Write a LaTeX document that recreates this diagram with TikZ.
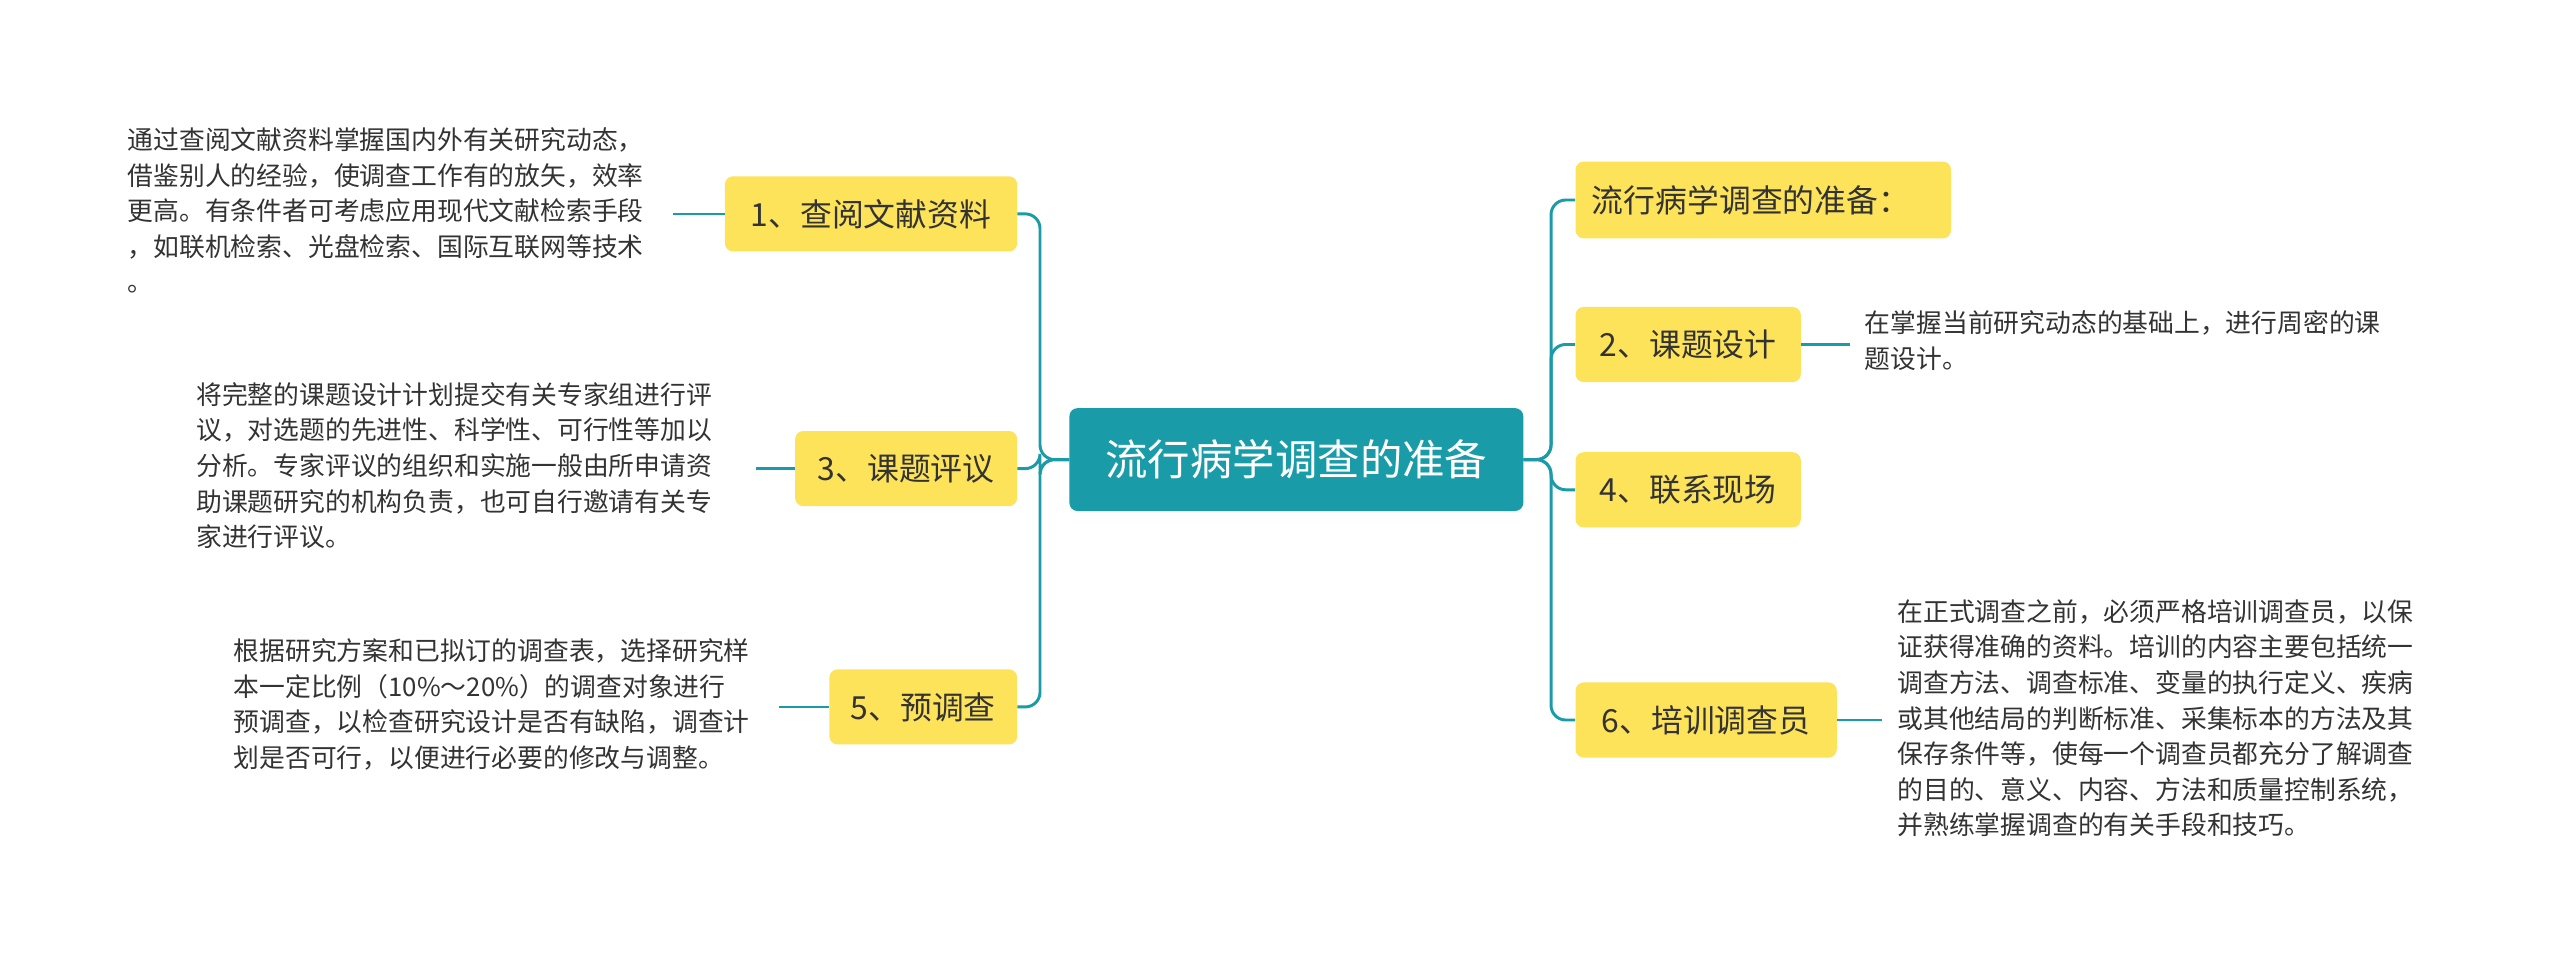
\documentclass[tikz,border=0pt]{standalone}
\usepackage{fontspec}
\setmainfont{Noto Sans CJK SC}
\definecolor{teal1}{HTML}{1A9BA8}
\definecolor{yel}{HTML}{FDE35A}
\definecolor{txt}{HTML}{333333}
\begin{document}
\begin{tikzpicture}[x=1pt,y=-1pt,
  topic/.style={fill=yel,rounded corners=5pt,inner sep=0pt,font=\fontsize{19.5}{22}\selectfont,text=txt},
  leaf/.style={align=left,inner sep=0pt,font=\fontsize{15.8}{21.8}\selectfont,text=txt,anchor=north west},
  conn/.style={draw=teal1,line width=1.8pt,rounded corners=9pt},
  lconn/.style={draw=teal1,line width=1.5pt}]
\useasboundingbox (0,0) rectangle (1568,593);
\fill[white] (0,0) rectangle (1568,593);
\node[fill=teal1,rounded corners=5pt,minimum width=278pt,minimum height=63pt,text=white,font=\fontsize{26}{30}\selectfont] (c) at (794,281.5) {流行病学调查的准备};
\node[topic,minimum width=179pt,minimum height=46pt] (n1) at (533.5,131) {1、查阅文献资料};
\node[topic,minimum width=136pt,minimum height=46pt] (n3) at (555,287) {3、课题评议};
\node[topic,minimum width=115pt,minimum height=46pt] (n5) at (565.5,433) {5、预调查};
\node[topic,minimum width=230pt,minimum height=47pt,text width=210pt,align=left] (r0) at (1080,122.5) {流行病学调查的准备：};
\node[topic,minimum width=138pt,minimum height=46pt] (n2) at (1034,211) {2、课题设计};
\node[topic,minimum width=138pt,minimum height=46pt] (n4) at (1034,300) {4、联系现场};
\node[topic,minimum width=160pt,minimum height=46pt] (n6) at (1045,441) {6、培训调查员};
\coordinate (jl) at (637,281.5);
\coordinate (jr) at (950,281.5);
\foreach \n in {n1,n3,n5} \draw[conn] (c.west) -- (jl) |- (\n.east);
\foreach \n in {r0,n2,n4,n6} \draw[conn] (c.east) -- (jr) |- (\n.west);
\node[leaf] (l1) at (78,78) {通过查阅文献资料掌握国内外有关研究动态，\\借鉴别人的经验，使调查工作有的放矢，效率\\更高。有条件者可考虑应用现代文献检索手段\\，如联机检索、光盘检索、国际互联网等技术\\。};
\node[leaf] (l3) at (120,234) {将完整的课题设计计划提交有关专家组进行评\\议，对选题的先进性、科学性、可行性等加以\\分析。专家评议的组织和实施一般由所申请资\\助课题研究的机构负责，也可自行邀请有关专\\家进行评议。};
\node[leaf] (l5) at (143,391) {根据研究方案和已拟订的调查表，选择研究样\\本一定比例（10\%～20\%）的调查对象进行\\预调查，以检查研究设计是否有缺陷，调查计\\划是否可行，以便进行必要的修改与调整。};
\node[leaf] (l2) at (1142,190) {在掌握当前研究动态的基础上，进行周密的课\\题设计。};
\node[leaf] (l6) at (1162,367) {在正式调查之前，必须严格培训调查员，以保\\证获得准确的资料。培训的内容主要包括统一\\调查方法、调查标准、变量的执行定义、疾病\\或其他结局的判断标准、采集标本的方法及其\\保存条件等，使每一个调查员都充分了解调查\\的目的、意义、内容、方法和质量控制系统，\\并熟练掌握调查的有关手段和技巧。};
\draw[lconn] (n1.west) -- (412,131);
\draw[lconn] (n3.west) -- (463,287);
\draw[lconn] (n5.west) -- (477,433);
\draw[lconn] (n2.east) -- (1133,211);
\draw[lconn] (n6.east) -- (1153,441);
\end{tikzpicture}
\end{document}
